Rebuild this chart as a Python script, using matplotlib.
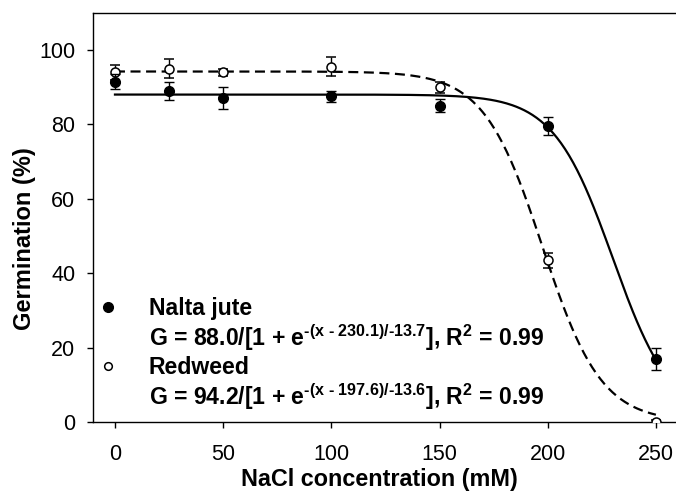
import numpy as np
import matplotlib.pyplot as plt
from matplotlib.lines import Line2D

plt.rcParams["font.family"] = ["Liberation Sans", "DejaVu Sans"]
plt.rcParams["mathtext.fontset"] = "custom"
plt.rcParams["mathtext.rm"] = "Liberation Sans:bold"
plt.rcParams["mathtext.bf"] = "Liberation Sans:bold"
plt.rcParams["mathtext.it"] = "Liberation Sans:bold"
plt.rcParams["mathtext.default"] = "regular"

# NaCl concentration (mM)
nacl = [0, 25, 50, 100, 150, 200, 250]

# germination (%) and standard errors
nalta = [91.5, 89.0, 87.0, 87.5, 85.0, 79.5, 17.0]
nalta_err = [2.0, 2.5, 3.0, 1.5, 1.8, 2.5, 3.0]
redweed = [94.0, 95.0, 94.0, 95.5, 90.0, 43.5, 0.0]
redweed_err = [2.0, 2.5, 1.0, 2.5, 1.5, 2.0, 0.5]

# fitted sigmoid parameters G = a / [1 + exp(-(x - x50) / b)]
nalta_fit = (88.0, 230.1, -13.7)
redweed_fit = (94.2, 197.6, -13.6)

fig = plt.figure(figsize=(6.76, 4.98), dpi=100)
ax = fig.add_axes([0.1371, 0.1526, 0.8629, 0.8219])

xs = np.linspace(0, 250, 400)
a, x0, b = nalta_fit
ax.plot(xs, a / (1 + np.exp(-(xs - x0) / b)), color="black", lw=1.6, zorder=2)
a, x0, b = redweed_fit
ax.plot(xs, a / (1 + np.exp(-(xs - x0) / b)), color="black", lw=1.6,
        dashes=(4.5, 2.5), zorder=2)

ax.errorbar(nacl, redweed, yerr=redweed_err, fmt="o", ms=6.5, mfc="white",
            mec="black", mew=1.1, ecolor="black", elinewidth=1.0, capsize=3.8,
            capthick=1.0, zorder=3)
ax.errorbar(nacl, nalta, yerr=nalta_err, fmt="o", ms=7, mfc="black",
            mec="black", ecolor="black", elinewidth=1.0, capsize=3.8,
            capthick=1.0, zorder=4)

ax.set_xlim(-10.3, 259.3)
ax.set_ylim(0, 110)
ax.set_xticks([0, 50, 100, 150, 200, 250])
ax.set_yticks([0, 20, 40, 60, 80, 100])
ax.tick_params(direction="out", length=4.5, width=1, labelsize=15.5)
ax.tick_params(axis="x", pad=11)
ax.tick_params(axis="y", pad=8)
ax.spines["right"].set_visible(False)
for s in ["left", "top", "bottom"]:
    ax.spines[s].set_linewidth(1.0)

ax.set_xlabel("NaCl concentration (mM)", fontsize=16.8, fontweight="bold")
ax.set_ylabel("Germination (%)", fontsize=17, fontweight="bold")
ax.xaxis.set_label_coords(0.4917, -0.113)
ax.yaxis.set_label_coords(-0.097, 0.448)

eq1 = r"G = 88.0/[1 + e$^{\text{-(x - 230.1)/-13.7}}$], R$^{2}$ = 0.99"
eq2 = r"G = 94.2/[1 + e$^{\text{-(x - 197.6)/-13.6}}$], R$^{2}$ = 0.99"
blank = Line2D([], [], linestyle="none")
handles = [
    Line2D([], [], marker="o", linestyle="none", ms=7, mfc="black", mec="black"),
    blank,
    Line2D([], [], marker="o", linestyle="none", ms=5.5, mfc="white",
           mec="black", mew=1.1),
    blank,
]
labels = ["Nalta jute", eq1, "Redweed", eq2]
leg = ax.legend(handles, labels, loc="center left", bbox_to_anchor=(0.007, 0.165),
                frameon=False, borderpad=0, borderaxespad=0, handlelength=1.0,
                handletextpad=1.25, labelspacing=0.1,
                prop={"weight": "bold", "size": 16.6})

fig.savefig("out.png", dpi=100)
